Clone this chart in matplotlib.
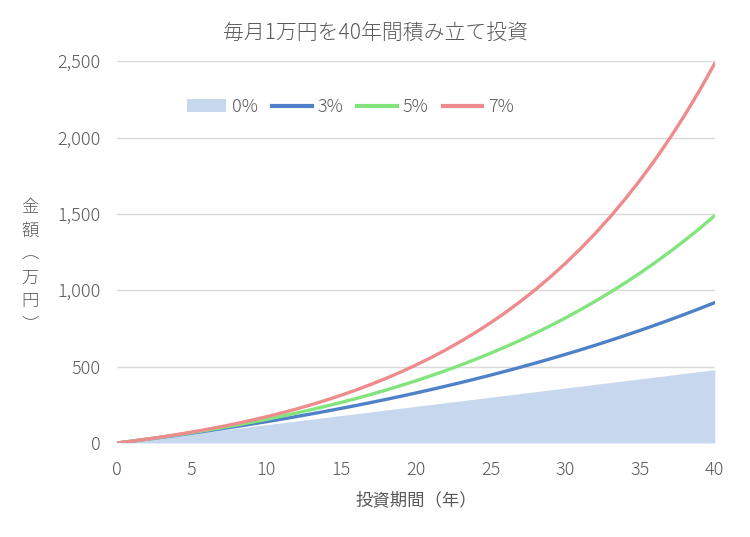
import matplotlib
matplotlib.use('Agg')
import matplotlib.pyplot as plt
from matplotlib.patches import Patch
from matplotlib.lines import Line2D

plt.rcParams['font.family'] = ['Noto Sans CJK JP', 'DejaVu Sans']
plt.rcParams['font.weight'] = 'light'

# 投資期間（年）
years = list(range(41))

# 0%：元本のみ（万円）
r0 = [12 * y for y in years]

# 3%, 5%, 7% の積立額（万円）- グラフから読み取った値
r3 = [0, 12.2, 24.8, 37.7, 51.0, 64.7, 78.9, 93.4, 108.4, 123.9,
      139.8, 156.2, 173.1, 190.5, 208.4, 226.8, 245.8, 265.4, 285.5, 306.3,
      327.7, 349.7, 372.4, 395.7, 419.8, 444.6, 470.1, 496.4, 523.5, 551.4,
      580.1, 609.7, 640.2, 671.6, 704.0, 737.3, 771.6, 806.9, 843.3, 880.8,
      919.4]
r5 = [0, 12.3, 25.3, 38.9, 53.1, 68.1, 83.8, 100.3, 117.7, 135.9,
      155.0, 175.1, 196.1, 218.3, 241.5, 265.9, 291.5, 318.4, 346.7, 376.3,
      407.5, 440.2, 474.5, 510.5, 548.4, 588.1, 629.9, 673.7, 719.7, 768.0,
      818.7, 872.0, 927.9, 986.6, 1048.2, 1113.0, 1180.9, 1252.3, 1327.3, 1405.9,
      1488.6]
r7 = [0, 12.5, 25.8, 40.0, 55.3, 71.6, 89.1, 107.8, 127.7, 149.1,
      172.0, 196.5, 222.7, 250.8, 280.8, 312.9, 347.2, 384.0, 423.3, 465.4,
      510.4, 558.6, 610.1, 665.3, 724.3, 787.5, 855.0, 927.3, 1004.7, 1087.5,
      1176.1, 1270.8, 1372.2, 1480.7, 1596.8, 1721.1, 1854.0, 1996.2, 2148.4, 2311.2,
      2485.5]

labels = ['0%', '3%', '5%', '7%']
c_area = '#c6d7ee'
c3 = '#4f81c9'
c5 = '#82e47c'
c7 = '#ee8b8d'
text_c = '#595959'

fig = plt.figure(figsize=(7.5, 5.37), dpi=100)
ax = fig.add_axes([0.156, 0.175, 0.797, 0.711])

ax.fill_between(years, 0, r0, color=c_area, linewidth=0, zorder=2)
ax.plot(years, r3, color=c3, lw=2.4, zorder=3, solid_capstyle='round')
ax.plot(years, r5, color=c5, lw=2.4, zorder=4, solid_capstyle='round')
ax.plot(years, r7, color=c7, lw=2.4, zorder=5, solid_capstyle='round')

ax.set_xlim(0, 40)
ax.set_ylim(0, 2500)
ax.set_xticks(range(0, 41, 5))
ax.set_yticks(range(0, 2501, 500))
ax.set_yticklabels([f'{v:,}' for v in range(0, 2501, 500)])
ax.grid(axis='y', color='#d9d9d9', lw=1, zorder=1)
ax.set_axisbelow(True)
for s in ax.spines.values():
    s.set_visible(False)
ax.tick_params(length=0, labelsize=13, colors=text_c, pad=12)
ax.tick_params(axis='x', pad=13)

ax.set_xlabel('投資期間（年）', fontsize=12.5, color=text_c, labelpad=9)
fig.text(0.04, 0.505, '金\n額\n︵\n万\n円\n︶', fontsize=12.5, color=text_c,
         ha='center', va='center', linespacing=1.4)
fig.text(0.5, 0.938, '毎月1万円を40年間積み立て投資', fontsize=15,
         color=text_c, ha='center', va='center')

handles = [Patch(facecolor=c_area, edgecolor='none'),
           Line2D([], [], color=c3, lw=3),
           Line2D([], [], color=c5, lw=3),
           Line2D([], [], color=c7, lw=3)]
leg = ax.legend(handles, labels, loc='center', bbox_to_anchor=(0.39, 0.88),
                ncol=4, frameon=False, fontsize=13, handlelength=2.2,
                handletextpad=0.3, columnspacing=0.8)
for t in leg.get_texts():
    t.set_color(text_c)

fig.savefig('out.png', dpi=100, facecolor='white')
